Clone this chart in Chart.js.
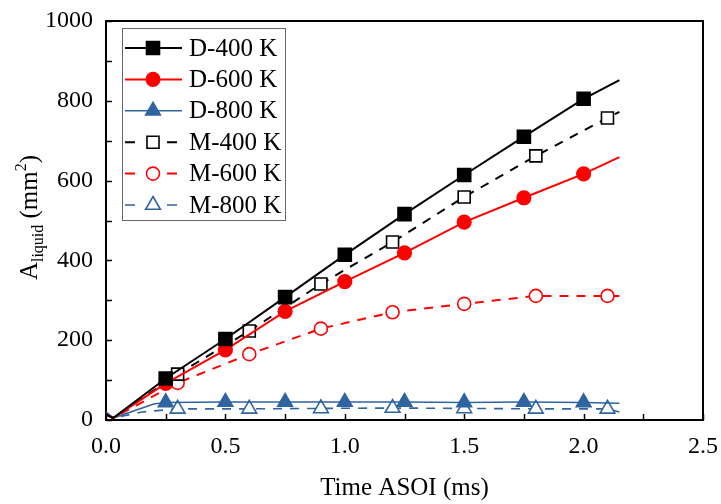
<!DOCTYPE html>
<html>
<head>
<meta charset="utf-8">
<script src="https://cdn.jsdelivr.net/npm/chart.js@4"></script>
<style>
  html, body { margin: 0; padding: 0; background: #fff; }
</style>
</head>
<body>
<canvas id="chart" width="721" height="504"></canvas>
<script>
// time axis (ms) for each line, and the times where markers sit
const dTime = [0, 0.03, 0.25, 0.5, 0.75, 1.0, 1.25, 1.5, 1.75, 2.0, 2.15];
const d800Time = [0, 0.03, 0.2, 0.25, 0.5, 0.75, 1.0, 1.25, 1.5, 1.75, 2.0, 2.15];
const mTime = [0, 0.03, 0.3, 0.6, 0.9, 1.2, 1.5, 1.8, 2.1, 2.15];
const m800Time = [0, 0.03, 0.15, 0.3, 0.6, 0.9, 1.2, 1.5, 1.8, 2.1, 2.15];
const dMarks = [0.25, 0.5, 0.75, 1.0, 1.25, 1.5, 1.75, 2.0];
const mMarks = [0.3, 0.6, 0.9, 1.2, 1.5, 1.8, 2.1];

// A_liquid (mm^2)
const d400 = [14, 5, 104, 203, 308, 414, 516, 614, 710, 805, 852];
const d600 = [14, 5, 92, 176, 272, 347, 419, 496, 557, 617, 659];
const d800 = [20, 5, 40, 44, 45, 45, 45, 45, 44, 45, 44, 42];
const m400 = [14, 5, 115, 223, 341, 446, 559, 662, 757, 772];
const m600 = [14, 5, 93, 165, 229, 270, 291, 311, 311, 311];
const m800 = [20, 5, 20, 28, 28, 29, 30, 29, 28, 28, 20];

const xTickStep = 0.25;
const yTickStep = 100;

const BLUE = '#2f64a0';
const FONT = "'Liberation Serif', 'Times New Roman', serif";

const makeSet = (label, xs, ys, marks, color, style, filled, dashed, radius) => ({
    label,
    data: xs.map((x, i) => ({ x, y: ys[i] })),
    borderColor: color,
    borderWidth: style === 'triangle' ? 1.6 : 2,
    borderDash: dashed ? [9, 8] : [],
    pointStyle: style,
    pointRadius: xs.map(x => marks.includes(x) ? radius : 0),
    pointHoverRadius: 0,
    pointBackgroundColor: filled ? color : '#fff',
    pointBorderColor: color,
    pointBorderWidth: 1.6,
    tension: 0,
    fill: false,
    legendRadius: radius
});

const datasets = [
    makeSet('D-400 K', dTime, d400, dMarks, '#000', 'rect', true, false, 9.2),
    makeSet('D-600 K', dTime, d600, dMarks, '#ff0000', 'circle', true, false, 6.8),
    makeSet('D-800 K', d800Time, d800, dMarks, BLUE, 'triangle', true, false, 8.5),
    makeSet('M-400 K', mTime, m400, mMarks, '#000', 'rect', false, true, 8.5),
    makeSet('M-600 K', mTime, m600, mMarks, '#ff0000', 'circle', false, true, 6.5),
    makeSet('M-800 K', m800Time, m800, mMarks, BLUE, 'triangle', false, true, 8.5)
];

// inward tick marks and the frame
const frameAndTicks = {
    id: 'frameAndTicks',
    beforeDatasetsDraw(chart) {
        const { ctx, chartArea: a, scales } = chart;
        ctx.save();
        ctx.strokeStyle = '#000';
        ctx.lineWidth = 1.5;
        scales.x.ticks.forEach(t => {
            const px = Math.round(scales.x.getPixelForValue(t.value)) + 0.5;
            ctx.beginPath();
            ctx.moveTo(px, a.bottom);
            ctx.lineTo(px, a.bottom - 6);
            ctx.stroke();
        });
        scales.y.ticks.forEach(t => {
            const py = Math.round(scales.y.getPixelForValue(t.value)) + 0.5;
            ctx.beginPath();
            ctx.moveTo(a.left, py);
            ctx.lineTo(a.left + 6, py);
            ctx.stroke();
        });
        ctx.lineWidth = 2;
        ctx.strokeRect(a.left, a.top, a.right - a.left, a.bottom - a.top);
        ctx.restore();
    }
};

const drawMarker = (ctx, ds, x, y) => {
    Chart.helpers.drawPoint(ctx, {
        pointStyle: ds.pointStyle,
        radius: ds.legendRadius,
        borderWidth: ds.pointBorderWidth
    }, x, y);
};

const legendBox = {
    id: 'legendBox',
    afterDraw(chart) {
        const { ctx } = chart;
        const left = 122, top = 28, right = 285, bottom = 220;
        ctx.save();
        ctx.strokeStyle = '#666';
        ctx.lineWidth = 1;
        ctx.strokeRect(left + 0.5, top + 0.5, right - left, bottom - top);
        chart.data.datasets.forEach((ds, i) => {
            const y = 48 + i * 31.4;
            const dashed = ds.borderDash.length > 0;
            ctx.strokeStyle = ds.borderColor;
            ctx.lineWidth = ds.borderWidth;
            ctx.beginPath();
            if (dashed) {
                ctx.moveTo(125, y); ctx.lineTo(135, y);
                ctx.moveTo(167, y); ctx.lineTo(177, y);
            } else {
                ctx.moveTo(125, y); ctx.lineTo(182, y);
            }
            ctx.stroke();
            ctx.fillStyle = ds.pointBackgroundColor;
            ctx.strokeStyle = ds.pointBorderColor;
            ctx.lineWidth = ds.pointBorderWidth;
            drawMarker(ctx, ds, 153, y);
            ctx.fillStyle = '#000';
            ctx.font = `25px ${FONT}`;
            ctx.textBaseline = 'middle';
            ctx.textAlign = 'left';
            ctx.fillText(ds.label, 189, y + 1);
        });
        ctx.restore();
    }
};

const axisTitles = {
    id: 'axisTitles',
    afterDraw(chart) {
        const { ctx, chartArea: a } = chart;
        ctx.save();
        ctx.fillStyle = '#000';
        ctx.textBaseline = 'alphabetic';
        ctx.textAlign = 'center';
        ctx.font = `25px ${FONT}`;
        ctx.fillText('Time ASOI (ms)', (a.left + a.right) / 2, 495);

        // y title with sub/superscript
        const parts = [
            { t: 'A', size: 25, dy: 0 },
            { t: 'liquid', size: 16, dy: 6 },
            { t: ' (mm', size: 25, dy: 0 },
            { t: '2', size: 16, dy: -11 },
            { t: ')', size: 25, dy: 0 }
        ];
        let total = 0;
        parts.forEach(p => {
            ctx.font = `${p.size}px ${FONT}`;
            p.w = ctx.measureText(p.t).width;
            total += p.w;
        });
        ctx.translate(37, (a.top + a.bottom) / 2 - 3);
        ctx.rotate(-Math.PI / 2);
        ctx.textAlign = 'left';
        let x = -total / 2;
        parts.forEach(p => {
            ctx.font = `${p.size}px ${FONT}`;
            ctx.fillText(p.t, x, p.dy);
            x += p.w;
        });
        ctx.restore();
    }
};

new Chart(document.getElementById('chart'), {
    type: 'line',
    data: { datasets },
    options: {
        responsive: false,
        animation: false,
        devicePixelRatio: 1,
        layout: { padding: { top: 21, right: 18, left: 0, bottom: 0 } },
        plugins: {
            legend: { display: false },
            tooltip: { enabled: false }
        },
        scales: {
            x: {
                type: 'linear',
                min: 0,
                max: 2.5,
                grid: { display: false, drawTicks: false },
                border: { display: false },
                ticks: {
                    stepSize: xTickStep,
                    autoSkip: false,
                    maxRotation: 0,
                    padding: 12,
                    color: '#000',
                    font: { family: FONT, size: 24 },
                    callback: v => Math.abs(v * 2 - Math.round(v * 2)) < 1e-6 ? v.toFixed(1) : ''
                },
                afterFit: s => {
                    s.height = 84;
                    s.paddingLeft = 0;
                    s.paddingRight = 0;
                }
            },
            y: {
                min: 0,
                max: 1000,
                grid: { display: false, drawTicks: false },
                border: { display: false },
                ticks: {
                    stepSize: yTickStep,
                    autoSkip: false,
                    padding: 13,
                    color: '#000',
                    font: { family: FONT, size: 24 },
                    callback: v => v % 200 === 0 ? String(v) : ''
                },
                afterFit: s => {
                    s.width = 106;
                    s.paddingTop = 0;
                    s.paddingBottom = 0;
                }
            }
        }
    },
    plugins: [frameAndTicks, legendBox, axisTitles]
});
</script>
</body>
</html>
